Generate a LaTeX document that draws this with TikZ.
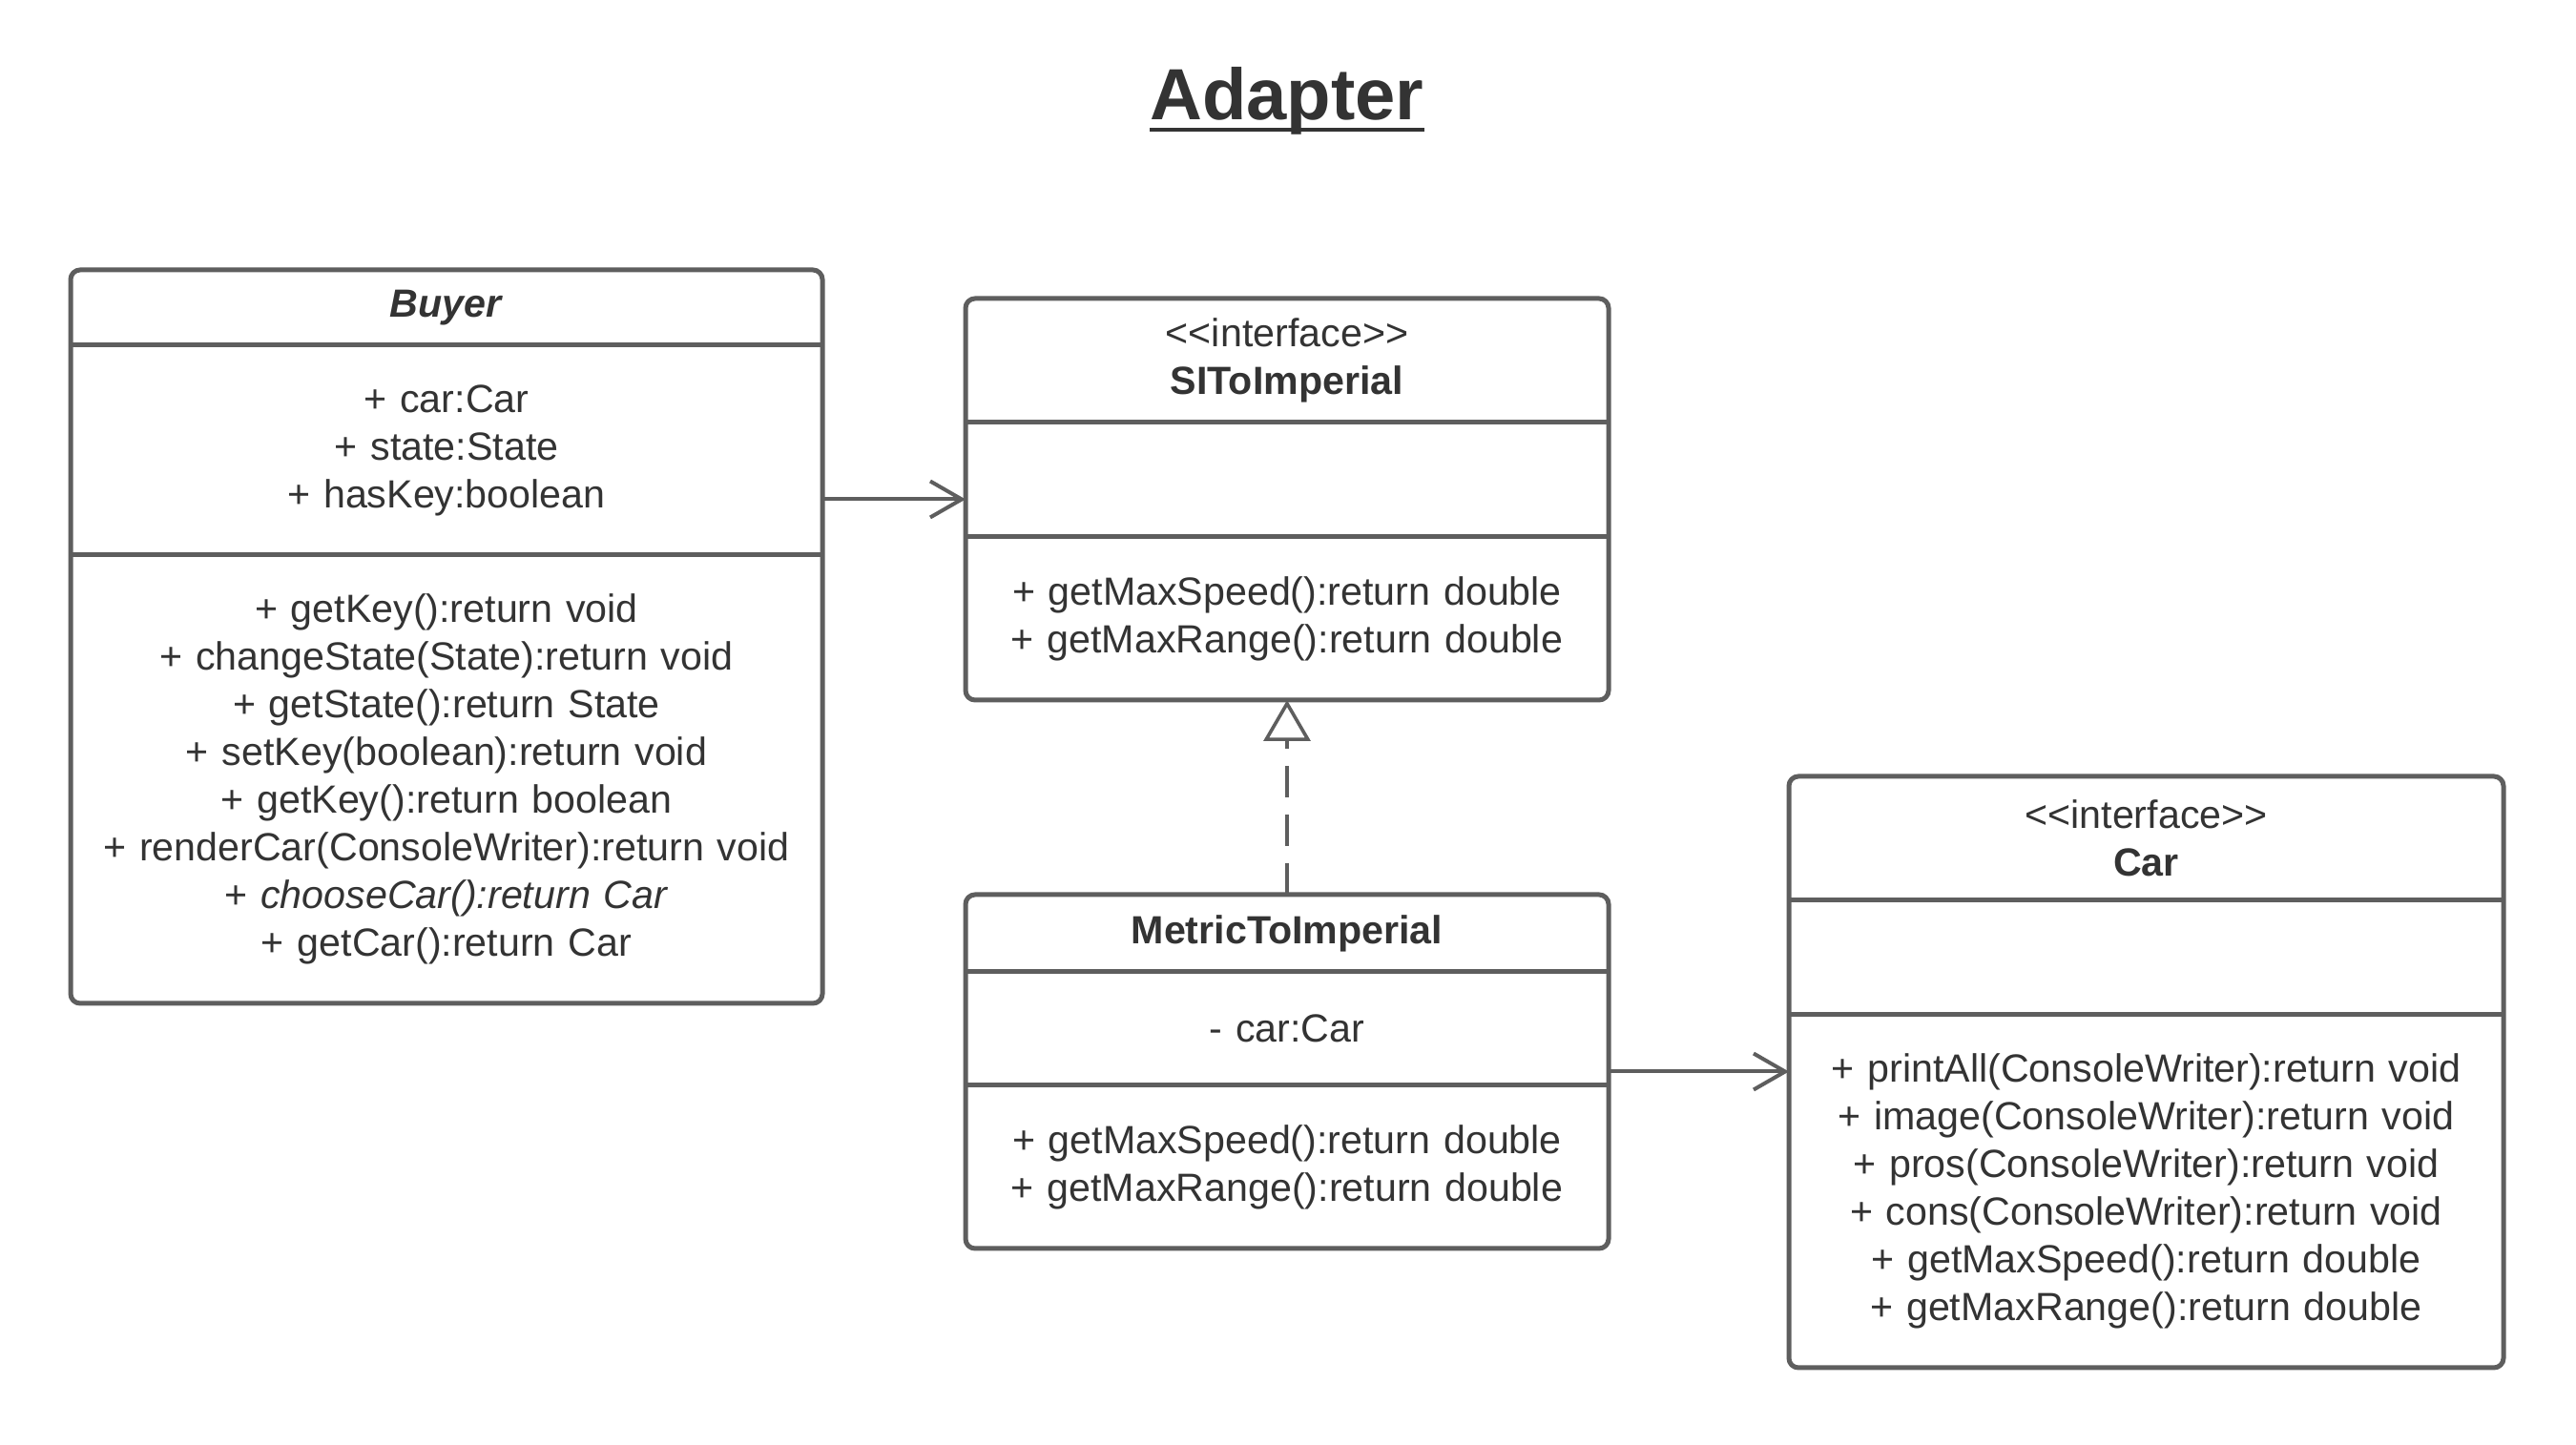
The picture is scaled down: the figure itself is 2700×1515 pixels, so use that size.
\documentclass[tikz,border=0pt]{standalone}
\usepackage{fontspec}
\setmainfont{Liberation Sans}
\usetikzlibrary{calc,positioning,arrows.meta}
\definecolor{LineGray}{HTML}{5E5E5E}
\definecolor{TextGray}{HTML}{333333}
\newcommand\stereo[1]{<\kern0pt<#1>\kern0pt>}

\begin{document}
\begin{tikzpicture}[x=0.25pt, y=-0.25pt,
				part/.style={inner sep=0pt, outer sep=0pt, align=center, text=TextGray,
					font=\fontsize{10.3}{12.5}\selectfont},
				frame/.style={draw=LineGray, line width=1.25pt, rounded corners=2.5pt},
				sep/.style={draw=LineGray, line width=1.25pt},
				arrow/.style={-{Straight Barb[length=8.25pt,width=9.5pt]}, LineGray, line width=1pt},
				realize/.style={-{Triangle[open,fill=white,length=10.75pt,width=12.25pt]}, LineGray,
					line width=0.9pt, dash pattern=on 8.25pt off 4.5pt},
				title/.style={inner sep=0pt, outer sep=0pt, text=TextGray,
					font=\fontsize{19}{23}\selectfont\bfseries}
				]
				\useasboundingbox (0,0) rectangle (2700,1515);
				\node[title, anchor=base] (title) at (1349,126) {Adapter};
				\draw[TextGray, line width=1pt] ([yshift=-2.6pt]title.base west) -- ([yshift=-2.6pt]title.base east);

				\node[part, text width=197pt, minimum height=19.75pt, anchor=north west] (buyer) at (74,283) {\textbf{\textit{Buyer}}};
				\node[part, text width=197pt, minimum height=55pt, below=0pt of buyer] (buyer-attr) {+ car:Car\\+ state:State\\+ hasKey:boolean};
				\node[part, text width=197pt, minimum height=117.5pt, below=0pt of buyer-attr] (buyer-ops) {+ getKey():return void\\+ changeState(State):return void\\+ getState():return State\\+ setKey(boolean):return void\\+ getKey():return boolean\\+ renderCar(ConsoleWriter):return void\\+ \textit{chooseCar():return Car}\\+ getCar():return Car};

				\node[part, text width=168.5pt, minimum height=32.5pt, anchor=north west] (si) at (1012,313) {\stereo{interface}\\\textbf{SIToImperial}};
				\node[part, text width=168.5pt, minimum height=30pt, below=0pt of si] (si-attr) {};
				\node[part, text width=168.5pt, minimum height=42.75pt, below=0pt of si-attr] (si-ops) {+ getMaxSpeed():return double\\+ getMaxRange():return double};

				\node[part, text width=168.5pt, minimum height=20.25pt, anchor=north west] (metric) at (1012,938) {\textbf{MetricToImperial}};
				\node[part, text width=168.5pt, minimum height=29.75pt, below=0pt of metric] (metric-attr) {- car:Car};
				\node[part, text width=168.5pt, minimum height=42.75pt, below=0pt of metric-attr] (metric-ops) {+ getMaxSpeed():return double\\+ getMaxRange():return double};

				\node[part, text width=187.25pt, minimum height=32.5pt, anchor=north west] (car) at (1875,814) {\stereo{interface}\\\textbf{Car}};
				\node[part, text width=187.25pt, minimum height=30pt, below=0pt of car] (car-attr) {};
				\node[part, text width=187.25pt, minimum height=92.5pt, below=0pt of car-attr] (car-ops) {+ printAll(ConsoleWriter):return void\\+ image(ConsoleWriter):return void\\+ pros(ConsoleWriter):return void\\+ cons(ConsoleWriter):return void\\+ getMaxSpeed():return double\\+ getMaxRange():return double};

				\foreach \c in {buyer,si,metric,car} {
					\draw[frame] (\c.north west) rectangle (\c-ops.south east);
					\draw[sep] (\c.south west) -- (\c.south east);
					\draw[sep] (\c-attr.south west) -- (\c-attr.south east);
				}

				\coordinate (si-mid) at ($(si.north west)!0.5!(si-ops.south west)$);
				\coordinate (metric-mid) at ($(metric.north east)!0.5!(metric-ops.south east)$);
				\draw[arrow] (si-mid -| buyer-attr.east) -- (si-mid);
				\draw[arrow] (metric-mid) -- (metric-mid -| car-ops.west);
				\draw[realize] (metric.north) -- (si-ops.south);
			\end{tikzpicture}
\end{document}
